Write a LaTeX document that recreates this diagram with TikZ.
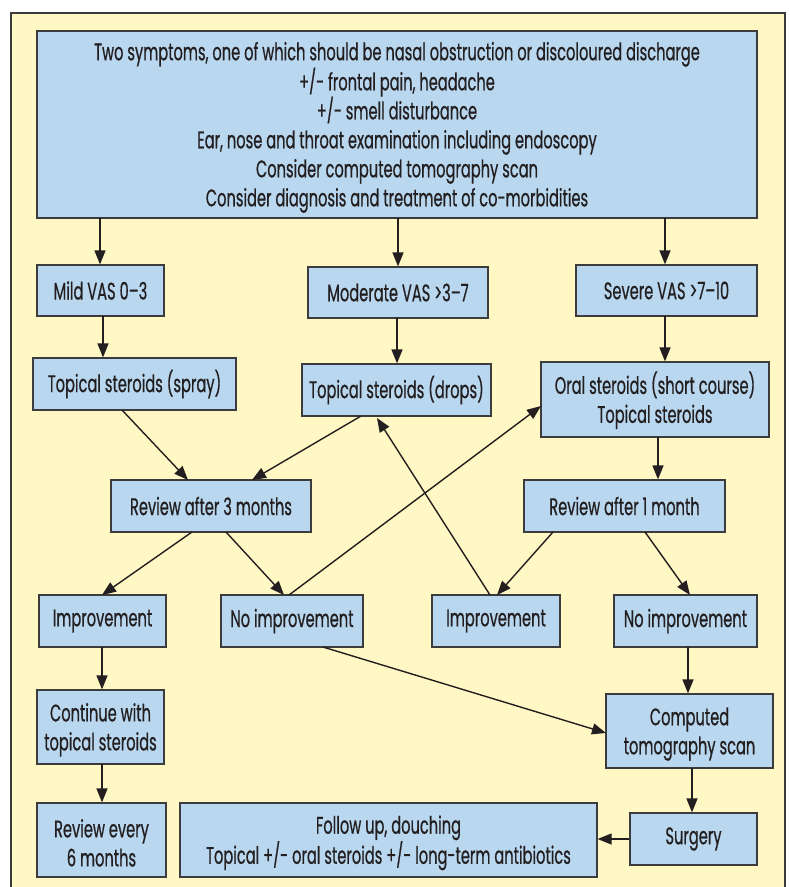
\documentclass[tikz,border=0pt]{standalone}
\usepackage{fontspec}
\setmainfont[FakeStretch=0.61,FakeBold=0.6]{Poppins}
\usetikzlibrary{arrows.meta}
\definecolor{frameyellow}{HTML}{FFF8C4}
\definecolor{boxblue}{HTML}{B9D8F0}
\definecolor{edgegrey}{HTML}{3C3C3C}
\definecolor{ink}{HTML}{231F20}
\tikzset{
  box/.style={draw=edgegrey, line width=1.2pt, fill=boxblue, text=ink, align=center,
    inner sep=0pt, font=\fontsize{24}{29}\selectfont},
  arr/.style={draw=ink, line width=1.4pt, -{Triangle[length=14pt,width=11pt]}},
  ln/.style={draw=ink, line width=1.4pt}
}
\newcommand{\bx}[6]{\node[box, minimum width=#4pt, minimum height=#5pt] (#1) at (#2,#3) {#6};}
\newcommand{\fl}{\rule{0pt}{24pt}}
\begin{document}
\begin{tikzpicture}[x=1pt,y=-1pt]
\useasboundingbox (0,0) rectangle (790,887);
\fill[white] (0,0) rectangle (790,887);
\draw[draw=edgegrey, line width=1.6pt, fill=frameyellow] (11,13) rectangle (785,905);
\bx{top}{397}{124.5}{720}{187}{\fl Two symptoms, one of which should be nasal obstruction or discoloured discharge\\ +/- frontal pain, headache\\ +/- smell disturbance\\ Ear, nose and throat examination including endoscopy\\ Consider computed tomography scan\\ Consider diagnosis and treatment of co-morbidities}
\bx{mild}{100.5}{290.5}{127}{51}{Mild VAS 0–3}
\bx{moderate}{398}{292.5}{180}{51}{Moderate VAS >3–7}
\bx{severe}{666.5}{290.5}{181}{51}{Severe VAS >7–10}
\bx{spray}{134.5}{384}{203}{52}{Topical steroids (spray)}
\bx{drops}{396.5}{390}{189}{52}{Topical steroids (drops)}
\bx{oral}{655}{399.5}{228}{75}{\fl Oral steroids (short course)\\ Topical steroids}
\bx{revthree}{211}{506}{200}{52}{Review after 3 months}
\bx{revone}{624.5}{506}{201}{52}{Review after 1 month}
\bx{impL}{102.5}{621}{127}{52}{Improvement}
\bx{noimpL}{292}{621}{142}{52}{No improvement}
\bx{impR}{496}{621}{128}{52}{Improvement}
\bx{noimpR}{685.5}{621}{143}{52}{No improvement}
\bx{cont}{100.5}{727}{127}{74}{\fl Continue with\\ topical steroids}
\bx{ct}{689.5}{731}{167}{74}{\fl Computed\\ tomography scan}
\bx{revsix}{101.5}{840}{129}{74}{\fl Review every\\ 6 months}
\bx{follow}{388.5}{840}{417}{74}{\fl Follow up, douching\\ Topical +/- oral steroids +/- long-term antibiotics}
\bx{surgery}{693.5}{839}{127}{52}{Surgery}
% connectors
\draw[arr] (100,218) coordinate (a1) -- (a1 |- mild.north);
\draw[arr] (398,218) coordinate (a2) -- (a2 |- moderate.north);
\draw[arr] (665,218) coordinate (a3) -- (a3 |- severe.north);
\draw[arr] (103,316) coordinate (a4) -- (a4 |- spray.north);
\draw[arr] (397,318) coordinate (a5) -- (a5 |- drops.north);
\draw[arr] (665,316) coordinate (a6) -- (a6 |- oral.north);
\draw[arr] (658,437) coordinate (a7) -- (a7 |- revone.north);
\coordinate (s1) at (122,410); \coordinate (e1) at (188,480);
\draw[arr] (s1) -- (e1);
\coordinate (s2) at (361,416); \coordinate (e2) at (252,480);
\draw[arr] (s2) -- (e2);
\coordinate (s3) at (192,532); \coordinate (e3) at (102,595);
\draw[arr] (s3) -- (e3);
\coordinate (s4) at (226,532); \coordinate (e4) at (284,595);
\draw[arr] (s4) -- (e4);
\coordinate (s5) at (289,595); \coordinate (e5) at (541,406);
\draw[arr] (s5) -- (e5);
\coordinate (s6) at (490,595); \coordinate (e6) at (377,418);
\draw[arr] (s6) -- (e6);
\coordinate (s7) at (553,532); \coordinate (e7) at (497,595);
\draw[arr] (s7) -- (e7);
\coordinate (s8) at (645,532); \coordinate (e8) at (690,595);
\draw[arr] (s8) -- (e8);
\draw[arr] (688,647) coordinate (a9) -- (a9 |- ct.north);
\coordinate (s10) at (323,647); \coordinate (e10) at (606,733);
\draw[arr] (s10) -- (e10);
\draw[arr] (102,647) coordinate (a11) -- (a11 |- cont.north);
\draw[arr] (102,764) coordinate (a12) -- (a12 |- revsix.north);
\draw[arr] (692,768) coordinate (a13) -- (a13 |- surgery.north);
\draw[arr] (surgery.west) -- (follow.east |- surgery.west);
\end{tikzpicture}
\end{document}
